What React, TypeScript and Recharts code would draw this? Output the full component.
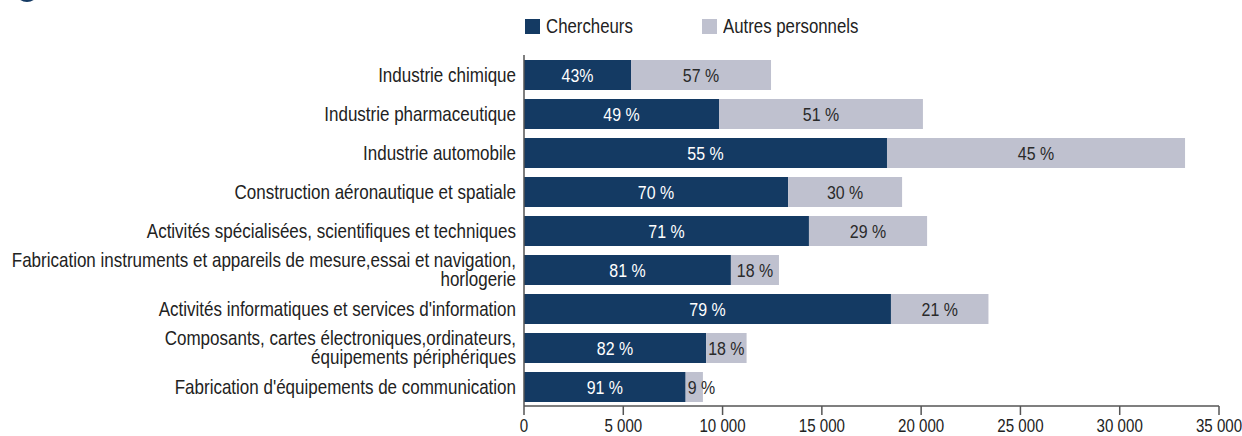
import { BarChart, Bar, XAxis, YAxis, Legend, LabelList } from "recharts";

const FONT = "'Liberation Sans', Arial, sans-serif";
const SX = 0.84; // horizontal squeeze to mimic the condensed face
const SX_CAT = 0.85;
const DARK = "#143a63";
const LIGHT = "#bfc1cf";

const categories = [
  "Industrie chimique",
  "Industrie pharmaceutique",
  "Industrie automobile",
  "Construction aéronautique et spatiale",
  "Activités spécialisées, scientifiques et techniques",
  "Fabrication instruments et appareils de mesure,essai et navigation,\nhorlogerie",
  "Activités informatiques et services d'information",
  "Composants, cartes électroniques,ordinateurs,\néquipements périphériques",
  "Fabrication d'équipements de communication",
];

const chercheurs = [5390, 9820, 18280, 13300, 14350, 10420, 18480, 9170, 8140];
const autres = [7050, 10270, 15010, 5740, 5950, 2420, 4910, 2040, 870];

const chercheursPct = ["43%", "49 %", "55 %", "70 %", "71 %", "81 %", "79 %", "82 %", "91 %"];
const autresPct = ["57 %", "51 %", "45 %", "30 %", "29 %", "18 %", "21 %", "18 %", "9 %"];

const xTicks = [0, 5000, 10000, 15000, 20000, 25000, 30000, 35000];

const data = categories.map((name, i) => ({
  name,
  chercheurs: chercheurs[i],
  autres: autres[i],
  cPct: chercheursPct[i],
  aPct: autresPct[i],
}));

const fmt = (v: number) => (v === 0 ? "0" : `${Math.floor(v / 1000)} ${String(v % 1000).padStart(3, "0")}`);

function CategoryTick(props: any) {
  const { x, y, payload } = props;
  const lines = String(payload.value).split("\n");
  const lh = 19;
  const start = -((lines.length - 1) * lh) / 2;
  return (
    <g transform={`translate(${x},${y}) scale(${SX_CAT},1)`}>
      <text x={0} y={start} textAnchor="end" fill="#222" fontSize={20} fontFamily={FONT}>
        {lines.map((l, i) => (
          <tspan key={i} x={0} dy={i === 0 ? "0.35em" : lh}>
            {l}
          </tspan>
        ))}
      </text>
    </g>
  );
}

function XTick(props: any) {
  const { x, y, payload } = props;
  return (
    <g transform={`translate(${x},${y}) scale(${SX},1)`}>
      <text x={0} y={0} dy="0.8em" textAnchor="middle" fill="#222" fontSize={18} fontFamily={FONT}>
        {fmt(payload.value)}
      </text>
    </g>
  );
}

const makeBarLabel = (color: string) => (props: any) => {
  const { x, y, width, height, value } = props;
  const w = Number(width);
  const narrow = w < 25;
  const tx = narrow ? Number(x) + 2 : Number(x) + w / 2;
  const cy = Number(y) + Number(height) / 2;
  return (
    <g transform={`translate(${tx},${cy}) scale(${SX},1)`}>
      <text x={0} y={0} dy="0.36em" textAnchor={narrow ? "start" : "middle"} fill={color} fontSize={19} fontFamily={FONT}>
        {value}
      </text>
    </g>
  );
};

function LegendBox() {
  const item = (left: number, color: string, label: string) => (
    <div style={{ position: "absolute", left, top: 0, display: "flex", alignItems: "center", height: 16 }}>
      <span style={{ display: "inline-block", width: 15, height: 15, background: color, marginRight: 6, flex: "none" }} />
      <span
        style={{
          fontFamily: FONT,
          fontSize: 20,
          color: "#222",
          lineHeight: "16px",
          whiteSpace: "nowrap",
          display: "inline-block",
          transform: `scaleX(${SX})`,
          transformOrigin: "left center",
        }}
      >
        {label}
      </span>
    </div>
  );
  return (
    <div style={{ position: "relative", width: 400, height: 16 }}>
      {item(0, DARK, "Chercheurs")}
      {item(177, LIGHT, "Autres personnels")}
    </div>
  );
}

export default function App() {
  return (
    <div style={{ position: "absolute", left: 0, top: 0, width: 1242, height: 436, background: "#fff", overflow: "hidden" }}>
      {/* cropped header icon visible at the top-left edge */}
      <div style={{ position: "absolute", left: 15, top: -22, width: 24, height: 24, borderRadius: "50%", background: DARK }} />
      <BarChart
        width={1242}
        height={436}
        data={data}
        layout="vertical"
        margin={{ top: 39, right: 23, bottom: 0, left: 10 }}
        barSize={30}
      >
        <XAxis
          type="number"
          domain={[0, 35000]}
          ticks={xTicks}
          height={30}
          axisLine={{ stroke: "#555", strokeWidth: 1.5 }}
          tickLine={{ stroke: "#555", strokeWidth: 1.5 }}
          tickSize={9}
          tickMargin={3}
          tick={<XTick />}
        />
        <YAxis
          type="category"
          dataKey="name"
          width={514}
          tickLine={false}
          axisLine={{ stroke: "#555", strokeWidth: 1.5 }}
          tick={<CategoryTick />}
          interval={0}
        />
        <Legend
          layout="vertical"
          align="center"
          verticalAlign="top"
          wrapperStyle={{ position: "absolute", left: 525, top: 18, width: 400 }}
          content={() => <LegendBox />}
        />
        <Bar dataKey="chercheurs" stackId="a" fill={DARK} isAnimationActive={false}>
          <LabelList dataKey="cPct" content={makeBarLabel("#fff")} />
        </Bar>
        <Bar dataKey="autres" stackId="a" fill={LIGHT} isAnimationActive={false}>
          <LabelList dataKey="aPct" content={makeBarLabel("#2a2a2a")} />
        </Bar>
      </BarChart>
    </div>
  );
}
